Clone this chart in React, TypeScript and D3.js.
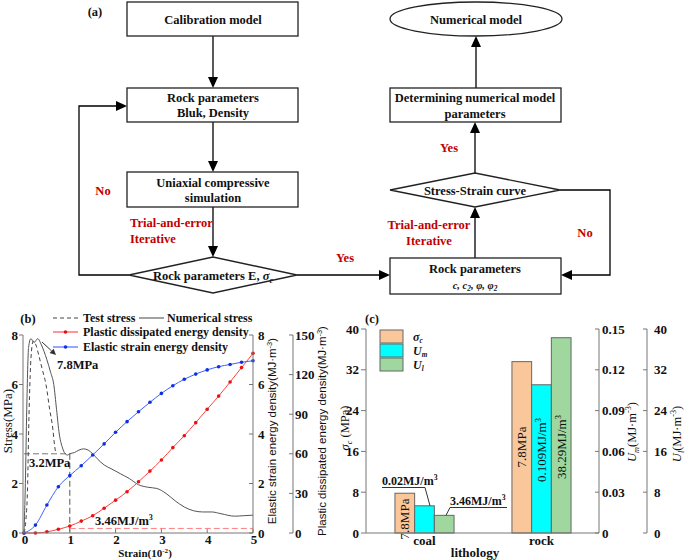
import React from 'react';
import * as d3 from 'd3';

// ---------- Panel (b) data ----------
const strainTicks = [0, 1, 2, 3, 4, 5];
const stressTicks = [0, 2, 4, 6, 8];
const elasticTicks = [0, 2, 4, 6, 8];
const plasticTicks = [0, 30, 60, 90, 120, 150];

const testStrain = [0, 0.04, 0.08, 0.1, 0.12, 0.15, 0.2, 0.26, 0.32, 0.4, 0.48, 0.56, 0.63, 0.67, 0.7];
const testStress = [0, 0.5, 2.0, 4.0, 5.5, 7.0, 7.75, 7.6, 7.2, 6.6, 6.0, 5.0, 4.2, 3.5, 3.2];

const numStrain = [0, 0.03, 0.06, 0.1, 0.15, 0.22, 0.3, 0.38, 0.5, 0.58, 0.65, 0.71, 0.77, 0.83, 0.9, 0.95, 1.0, 1.1, 1.2, 1.3, 1.4, 1.5, 1.6, 1.75, 1.9, 2.1, 2.3, 2.5, 2.7, 2.9, 3.1, 3.3, 3.5, 3.7, 3.9, 4.1, 4.3, 4.6, 4.8, 5.0];
const numStress = [0, 2.0, 5.0, 7.5, 7.85, 7.7, 7.85, 7.6, 7.0, 6.5, 6.0, 5.0, 4.0, 3.5, 3.2, 3.15, 3.2, 3.25, 3.35, 3.4, 3.35, 3.2, 3.0, 2.75, 2.6, 2.4, 2.2, 1.95, 1.85, 1.8, 1.6, 1.3, 1.05, 0.9, 0.85, 0.85, 0.78, 0.68, 0.7, 0.72];

const energyStrain = [0, 0.25, 0.5, 0.75, 1.0, 1.25, 1.5, 1.75, 2.0, 2.25, 2.5, 2.75, 3.0, 3.25, 3.5, 3.75, 4.0, 4.25, 4.5, 4.75, 5.0];
const elasticEnergy = [0, 0.32, 1.13, 1.87, 2.32, 2.72, 3.15, 3.6, 4.07, 4.5, 4.9, 5.28, 5.64, 5.95, 6.21, 6.42, 6.59, 6.72, 6.81, 6.9, 6.96];
const plasticEnergy = [0, 0, 0.9, 2.8, 5.3, 9.0, 13.1, 18.8, 24.9, 31.3, 38.8, 46.9, 55.3, 64.7, 73.7, 83.6, 93.8, 103.7, 114.4, 125.3, 136.1];

// ---------- Panel (c) data ----------
const lithology = ['coal', 'rock'];
const sigmaC = [7.8, 33.6];
const Um = [0.02, 0.109];
const Ul = [3.46, 38.29];
const sigmaTicks = [0, 8, 16, 24, 32, 40];
const umTicks = [0, 0.03, 0.06, 0.09, 0.12, 0.15];
const ulTicks = [0, 8, 16, 24, 32, 40];

const SERIF = "'Liberation Serif', 'Times New Roman', serif";
const SANS = "'Liberation Sans', Arial, sans-serif";
const RED = '#c00000';

type P = [number, number];

const Arrow = ({ pts, L = 11, W = 5, sw = 1.3, color = '#000' }: { pts: P[]; L?: number; W?: number; sw?: number; color?: string }) => {
  const [x2, y2] = pts[pts.length - 1];
  const [x1, y1] = pts[pts.length - 2];
  const a = Math.atan2(y2 - y1, x2 - x1);
  const bx = x2 - L * Math.cos(a);
  const by = y2 - L * Math.sin(a);
  const p1 = [bx + W * Math.sin(a), by - W * Math.cos(a)];
  const p2 = [bx - W * Math.sin(a), by + W * Math.cos(a)];
  const line = pts.slice(0, -1).concat([[bx, by]]);
  return (
    <g>
      <polyline points={line.map((p) => p.join(',')).join(' ')} fill="none" stroke={color} strokeWidth={sw} />
      <polygon points={`${x2},${y2} ${p1.join(',')} ${p2.join(',')}`} fill={color} />
    </g>
  );
};

const FT = ({ x, y, children, size = 12.5, anchor = 'middle', color = '#111', italic = false, weight = 'bold' }: any) => (
  <text x={x} y={y} fontFamily={SERIF} fontWeight={weight} fontSize={size} textAnchor={anchor} fill={color} fontStyle={italic ? 'italic' : 'normal'}>
    {children}
  </text>
);

const Diamond = ({ cx, cy, hw, hh }: { cx: number; cy: number; hw: number; hh: number }) => (
  <polygon points={`${cx - hw},${cy} ${cx},${cy - hh} ${cx + hw},${cy} ${cx},${cy + hh}`} fill="#fff" stroke="#222" strokeWidth={1.3} />
);

const Box = ({ x, y, w, h }: { x: number; y: number; w: number; h: number }) => (
  <rect x={x} y={y} width={w} height={h} fill="#fff" stroke="#222" strokeWidth={1.3} />
);

export default function App() {
  // panel b scales
  const xb = d3.scaleLinear().domain([0, 5]).range([24, 253]);
  const ys = d3.scaleLinear().domain([0, 8]).range([533, 335]);
  const ye = d3.scaleLinear().domain([0, 8]).range([533, 335]);
  const yp = d3.scaleLinear().domain([0, 150]).range([533, 335]);

  const stressLine = d3.line<number>().x((d, i) => xb(testStrain[i])).y((d) => ys(d)).curve(d3.curveMonotoneX);
  const numLine = d3.line<number>().x((d, i) => xb(numStrain[i])).y((d) => ys(d)).curve(d3.curveMonotoneX);
  const elLine = d3.line<number>().x((d, i) => xb(energyStrain[i])).y((d) => ye(d)).curve(d3.curveMonotoneX);
  const plLine = d3.line<number>().x((d, i) => xb(energyStrain[i])).y((d) => yp(d)).curve(d3.curveMonotoneX);

  // panel c scales
  const xc = d3.scalePoint<string>().domain(lithology).range([366, 600]).padding(0.5);
  const ysig = d3.scaleLinear().domain([0, 40]).range([533, 329]);
  const yum = d3.scaleLinear().domain([0, 0.15]).range([533, 329]);
  const yul = d3.scaleLinear().domain([0, 40]).range([533, 329]);
  const bw = 19.7;
  const barColors = ['#fac79b', '#00ffff', '#9fd79f'];

  const sup = (t: string, dy = -5) => (
    <tspan dy={dy} fontSize="0.65em">{t}</tspan>
  );

  return (
    <svg width={685} height={560} style={{ position: 'absolute', left: 0, top: 0, background: '#fff' }}>
      {/* ================= Panel (a) flowchart ================= */}
      <FT x={95} y={16} anchor="middle">(a)</FT>

      <Arrow pts={[[213, 36], [213, 88]]} />
      <Arrow pts={[[213, 122], [213, 172]]} />
      <Arrow pts={[[213, 207], [213, 257]]} />
      <Arrow pts={[[129, 275], [79, 275], [79, 106], [127, 106]]} />
      <Arrow pts={[[297, 275], [390, 275]]} />
      <Arrow pts={[[475, 258], [475, 207]]} />
      <Arrow pts={[[475, 173], [475, 122]]} />
      <Arrow pts={[[476, 88], [476, 36]]} />
      <Arrow pts={[[560, 190], [610, 190], [610, 275], [561, 275]]} />

      <Box x={127} y={2} w={171} h={34} />
      <FT x={213} y={24}>Calibration model</FT>

      <Box x={127} y={88} w={171} h={34} />
      <FT x={213} y={102}>Rock parameters</FT>
      <FT x={213} y={117}>Bluk, Density</FT>

      <Box x={127} y={172} w={171} h={35} />
      <FT x={213} y={187}>Uniaxial compressive</FT>
      <FT x={213} y={202}>simulation</FT>

      <Diamond cx={213} cy={275} hw={84} hh={18} />
      <FT x={213} y={280}>
        Rock parameters E, <tspan fontStyle="italic">σ</tspan>
        <tspan dy={3} fontSize="0.65em" fontStyle="italic">c</tspan>
      </FT>

      <Box x={390} y={258} w={171} h={36} />
      <FT x={475} y={273}>Rock parameters</FT>
      <FT x={475} y={289} size={10.5} italic>
        c, c<tspan dy={2} fontSize="0.7em">2</tspan>
        <tspan dy={-2}>, φ, φ</tspan>
        <tspan dy={2} fontSize="0.7em">2</tspan>
      </FT>

      <Diamond cx={475} cy={190} hw={85} hh={17} />
      <FT x={475} y={195}>Stress-Strain curve</FT>

      <Box x={390} y={88} w={171} h={34} />
      <FT x={475} y={102}>Determining numerical model</FT>
      <FT x={475} y={118}>parameters</FT>

      <ellipse cx={476} cy={19} rx={86} ry={17} fill="#fff" stroke="#222" strokeWidth={1.3} />
      <FT x={476} y={24}>Numerical model</FT>

      <FT x={103} y={195} color={RED}>No</FT>
      <FT x={130} y={227} color={RED} anchor="start">Trial-and-error</FT>
      <FT x={130} y={243} color={RED} anchor="start">Iterative</FT>
      <FT x={345} y={262} color={RED}>Yes</FT>
      <FT x={429} y={229} color={RED}>Trial-and-error</FT>
      <FT x={429} y={245} color={RED}>Iterative</FT>
      <FT x={585} y={237} color={RED}>No</FT>
      <FT x={449} y={152} color={RED}>Yes</FT>

      {/* ================= Panel (b) ================= */}
      <FT x={28} y={323}>(b)</FT>

      {/* legend */}
      <line x1={53} x2={78} y1={318} y2={318} stroke="#444" strokeDasharray="4,3" strokeWidth={1} />
      <FT x={83} y={322} anchor="start" size={12}>Test stress</FT>
      <line x1={139} x2={164} y1={318} y2={318} stroke="#444" strokeWidth={1} />
      <FT x={167} y={322} anchor="start" size={12}>Numerical stress</FT>
      <line x1={53} x2={78} y1={332} y2={332} stroke="#ff3030" strokeWidth={1} />
      <circle cx={65.5} cy={332} r={1.8} fill="#e01010" />
      <FT x={83} y={336} anchor="start" size={12}>Plastic dissipated energy density</FT>
      <line x1={53} x2={78} y1={347} y2={347} stroke="#3050ff" strokeWidth={1} />
      <circle cx={65.5} cy={347} r={1.8} fill="#1030e0" />
      <FT x={83} y={351} anchor="start" size={12}>Elastic strain energy density</FT>

      {/* annotation guides */}
      <line x1={xb(0)} x2={xb(1)} y1={ys(3.2)} y2={ys(3.2)} stroke="#777" strokeDasharray="6,3" strokeWidth={1} />
      <line x1={xb(1)} x2={xb(1)} y1={ys(3.2)} y2={ys(0)} stroke="#555" strokeDasharray="6,3" strokeWidth={1} />
      <line x1={xb(1)} x2={xb(5)} y1={yp(3.46)} y2={yp(3.46)} stroke="#ff8080" strokeDasharray="6,3" strokeWidth={1} />

      {/* curves */}
      <path d={stressLine(testStress) || ''} fill="none" stroke="#444" strokeWidth={1} strokeDasharray="4,3" />
      <path d={numLine(numStress) || ''} fill="none" stroke="#555" strokeWidth={1} />
      <path d={plLine(plasticEnergy) || ''} fill="none" stroke="#ff4040" strokeWidth={1} />
      {plasticEnergy.map((v, i) => (
        <circle key={'p' + i} cx={xb(energyStrain[i])} cy={yp(v)} r={1.8} fill="#e81010" />
      ))}
      <path d={elLine(elasticEnergy) || ''} fill="none" stroke="#4060ff" strokeWidth={1} />
      {elasticEnergy.map((v, i) => (
        <circle key={'e' + i} cx={xb(energyStrain[i])} cy={ye(v)} r={1.8} fill="#1030e0" />
      ))}

      {/* annotations text */}
      <Arrow pts={[[42, 342], [56, 355]]} L={6} W={3} sw={1} color="#333" />
      <FT x={57} y={369} anchor="start">7.8MPa</FT>
      <FT x={29} y={467} anchor="start">3.2MPa</FT>
      <FT x={95} y={525} anchor="start">3.46MJ/m{sup('3')}</FT>

      {/* left axis */}
      <line x1={23} x2={23} y1={335} y2={533} stroke="#777" strokeWidth={1} />
      {stressTicks.map((t) => (
        <g key={'sl' + t}>
          <line x1={19} x2={23} y1={ys(t)} y2={ys(t)} stroke="#777" />
          <FT x={18} y={ys(t) + 4.5} anchor="end" size={13}>{t}</FT>
        </g>
      ))}
      <text transform={`translate(12,421) rotate(-90)`} fontFamily={SERIF} fontSize={13} textAnchor="middle" fill="#111">Stress(MPa)</text>

      {/* bottom axis */}
      <line x1={23} x2={253} y1={533} y2={533} stroke="#777" strokeWidth={1} />
      {strainTicks.map((t) => (
        <g key={'sx' + t}>
          <line x1={xb(t)} x2={xb(t)} y1={533} y2={529} stroke="#777" />
          <FT x={xb(t) + 1} y={543.5} size={13}>{t}</FT>
        </g>
      ))}
      <FT x={145} y={557.3} size={11}>Strain(10{sup('-2', -4)}<tspan dy={4}>)</tspan></FT>

      {/* right axis 1: elastic */}
      <line x1={253} x2={253} y1={335} y2={533} stroke="#777" strokeWidth={1} />
      {elasticTicks.map((t) => (
        <g key={'el' + t}>
          <line x1={249} x2={253} y1={ye(t)} y2={ye(t)} stroke="#777" />
          <FT x={258} y={ye(t) + 4.5} anchor="start" size={13}>{t}</FT>
        </g>
      ))}
      <text transform={`translate(276,431) rotate(-90)`} fontFamily={SANS} fontSize={11.5} textAnchor="middle" fill="#111">
        Elastic strain energy density(MJ·m{sup('-3', -4)}<tspan dy={4}>)</tspan>
      </text>

      {/* right axis 2: plastic */}
      <line x1={293} x2={293} y1={335} y2={533} stroke="#777" strokeWidth={1} />
      {plasticTicks.map((t) => (
        <g key={'pl' + t}>
          <line x1={289} x2={293} y1={yp(t)} y2={yp(t)} stroke="#777" />
          <FT x={295} y={yp(t) + 4.5} anchor="start" size={13}>{t}</FT>
        </g>
      ))}
      <text transform={`translate(326,431) rotate(-90)`} fontFamily={SANS} fontSize={11.5} textAnchor="middle" fill="#111">
        Plastic dissipated energy density(MJ·m{sup('-3', -4)}<tspan dy={4}>)</tspan>
      </text>

      {/* ================= Panel (c) ================= */}
      <FT x={372} y={323}>(c)</FT>

      {/* bars */}
      {lithology.map((l, i) => {
        const c = xc(l) as number;
        return (
          <g key={'bar' + l}>
            <rect x={c - 1.5 * bw} y={ysig(sigmaC[i])} width={bw} height={533 - ysig(sigmaC[i])} fill={barColors[0]} stroke="#666" strokeWidth={1} />
            <rect x={c - 0.5 * bw} y={yum(Um[i])} width={bw} height={533 - yum(Um[i])} fill={barColors[1]} stroke="#666" strokeWidth={1} />
            <rect x={c + 0.5 * bw} y={yul(Ul[i])} width={bw} height={533 - yul(Ul[i])} fill={barColors[2]} stroke="#666" strokeWidth={1} />
          </g>
        );
      })}

      {/* bar labels */}
      <g fontFamily={SERIF} fontSize={13} fill="#111">
        <text transform={`translate(${(xc('coal') as number) - bw + 4.5},519) rotate(-90)`} textAnchor="middle">7.8MPa</text>
        <text transform={`translate(${(xc('rock') as number) - bw + 4.5},447) rotate(-90)`} textAnchor="middle">7.8MPa</text>
        <text transform={`translate(${(xc('rock') as number) + 4.5},450) rotate(-90)`} textAnchor="middle">0.109MJ/m{sup('3')}</text>
        <text transform={`translate(${(xc('rock') as number) + bw + 4.5},447) rotate(-90)`} textAnchor="middle">38.29MJ/m{sup('3')}</text>
      </g>
      <g fontFamily={SERIF} fontWeight="bold" fontSize={12} fill="#111">
        <text x={382} y={485}>0.02MJ/m{sup('3')}</text>
        <text x={450} y={505}>3.46MJ/m{sup('3')}</text>
      </g>
      <polyline points={`382,487.5 425,487.5 430,${yum(Um[0])}`} fill="none" stroke="#333" strokeWidth={1} />
      <polyline points={`507,507.5 450,507.5 446,${yul(Ul[0])}`} fill="none" stroke="#333" strokeWidth={1} />

      {/* legend */}
      {['σ', 'U', 'U'].map((s, i) => (
        <g key={'lg' + i}>
          <rect x={380} y={330 + i * 14} width={23} height={13} fill={barColors[i]} stroke="#666" strokeWidth={1} />
          <text x={413} y={340.5 + i * 14} fontFamily={SERIF} fontWeight="bold" fontStyle="italic" fontSize={12} fill="#111">
            {s}
            <tspan dy={2} fontSize="0.6em">{['c', 'm', 'l'][i]}</tspan>
          </text>
        </g>
      ))}

      {/* left axis */}
      <line x1={366} x2={366} y1={329} y2={533} stroke="#777" strokeWidth={1} />
      {sigmaTicks.map((t) => (
        <g key={'sg' + t}>
          <line x1={361} x2={366} y1={ysig(t)} y2={ysig(t)} stroke="#777" />
          <FT x={359} y={ysig(t) + 4.5} anchor="end" size={13}>{t}</FT>
        </g>
      ))}
      <text transform={`translate(349,428) rotate(-90)`} fontFamily={SERIF} fontSize={12.5} textAnchor="middle" fill="#111">
        <tspan fontStyle="italic">σ</tspan>
        <tspan dy={3} fontSize="0.65em" fontStyle="italic">c</tspan>
        <tspan dy={-3}> (MPa)</tspan>
      </text>

      {/* bottom axis */}
      <line x1={366} x2={599} y1={533} y2={533} stroke="#777" strokeWidth={1} />
      {lithology.map((l) => (
        <FT key={'lx' + l} x={xc(l) as number} y={545} size={13}>{l}</FT>
      ))}
      <FT x={475} y={557} size={13}>lithology</FT>

      {/* right axis Um */}
      <line x1={599} x2={599} y1={329} y2={533} stroke="#777" strokeWidth={1} />
      {umTicks.map((t) => (
        <g key={'um' + t}>
          <line x1={595} x2={599} y1={yum(t)} y2={yum(t)} stroke="#777" />
          <FT x={602} y={yum(t) + 4.5} anchor="start" size={13}>{t === 0 ? '0' : t.toFixed(2)}</FT>
        </g>
      ))}
      <text transform={`translate(636,432) rotate(-90)`} fontFamily={SERIF} fontSize={12.5} textAnchor="middle" fill="#111">
        <tspan fontStyle="italic">U</tspan>
        <tspan dy={3} fontSize="0.65em" fontStyle="italic">m</tspan>
        <tspan dy={-3}>(MJ·m</tspan>
        {sup('-3')}
        <tspan dy={5}>)</tspan>
      </text>

      {/* right axis Ul */}
      <line x1={647} x2={647} y1={329} y2={533} stroke="#777" strokeWidth={1} />
      {ulTicks.map((t) => (
        <g key={'ul' + t}>
          <line x1={643} x2={647} y1={yul(t)} y2={yul(t)} stroke="#777" />
          <FT x={654} y={yul(t) + 4.5} anchor="start" size={13}>{t}</FT>
        </g>
      ))}
      <text transform={`translate(681,434) rotate(-90)`} fontFamily={SERIF} fontSize={12.5} textAnchor="middle" fill="#111">
        <tspan fontStyle="italic">U</tspan>
        <tspan dy={3} fontSize="0.65em" fontStyle="italic">l</tspan>
        <tspan dy={-3}>(MJ·m</tspan>
        {sup('-3')}
        <tspan dy={5}>)</tspan>
      </text>
    </svg>
  );
}
